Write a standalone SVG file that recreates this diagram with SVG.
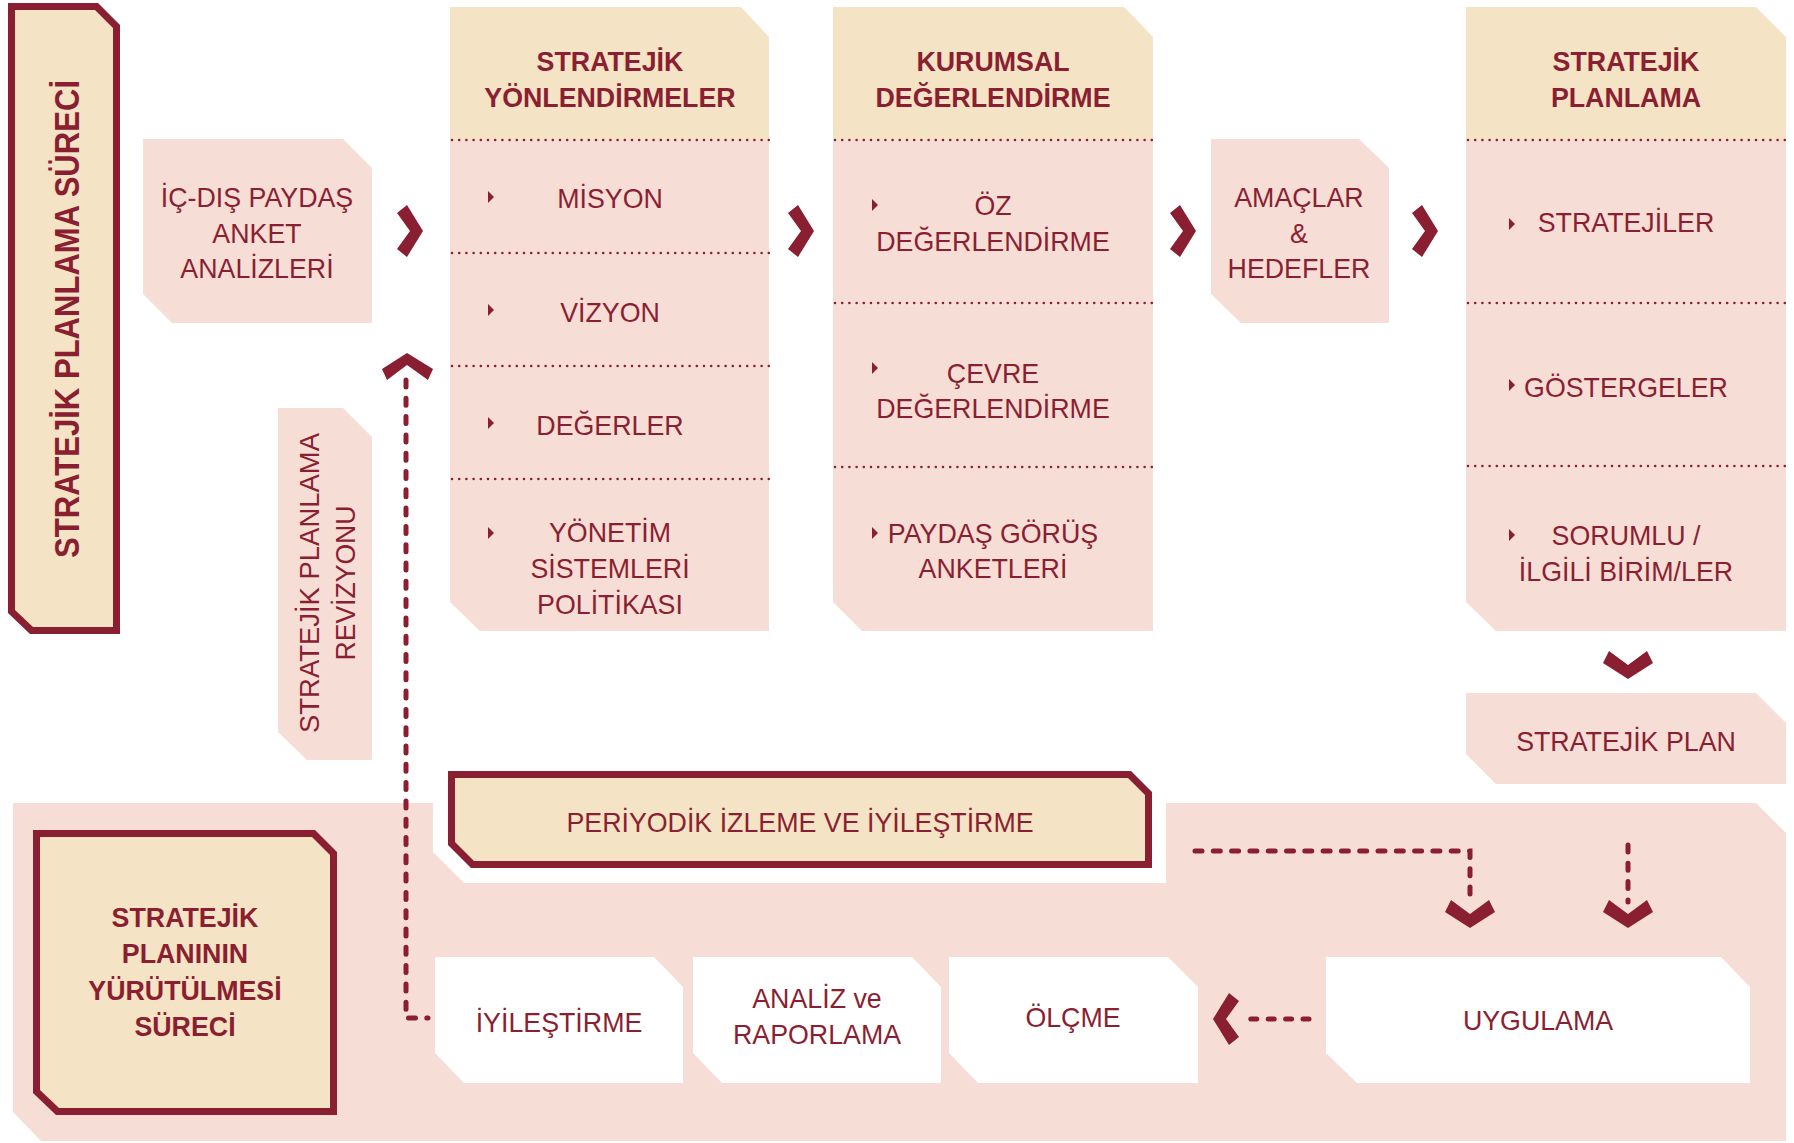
<svg xmlns="http://www.w3.org/2000/svg" xmlns:xlink="http://www.w3.org/1999/xlink" width="1794" height="1143" viewBox="0 0 1794 1143">
<style>
.t{font-family:"Liberation Sans",Arial,sans-serif;fill:#8B1F32;font-size:28.5px;text-anchor:middle}
.c{transform-box:fill-box;transform-origin:center;transform:scaleX(0.94)}
.b{font-weight:bold}
.pink{fill:#F6DDD6}
.beige{fill:#F4E3C5}
.red{fill:#8B1F32}
.white{fill:#FFFFFF}
.dot{stroke:#8B1F32;stroke-width:2.6;stroke-linecap:round;stroke-dasharray:0 7.2;fill:none}
.dash{stroke:#8B1F32;stroke-width:5;stroke-linecap:round;stroke-dasharray:7 11.3;fill:none}
</style>
<defs>
<polygon id="chevR" points="0,0 -16,-26 -26,-18 -13,0 -26,18 -16,26"/>
<polygon id="chevD" points="0,0 -25,-16 -19,-28 0,-14 19,-28 25,-16"/>
<polygon id="bul" points="0,-6 6,0 0,6"/>
</defs>
<rect width="1794" height="1143" fill="#FFFFFF"/>

<g id="bottom-bg">
<path class="pink" d="M13,803 L433,803 L433,852 L464,883 L1166,883 L1166,803 L1756,803 L1786,833 L1786,1141 L41,1141 L13,1112 Z"/>
</g>

<g id="node-surec">
<polygon class="red" points="8,3 98,3 120,25 120,634 30,634 8,613"/>
<polygon class="beige" points="15,10 95,10 113,28 113,627 33,627 15,610"/>
<text class="t b" transform="translate(79,319) rotate(-90)" style="font-size:35px" textLength="478" lengthAdjust="spacingAndGlyphs">STRATEJİK PLANLAMA SÜRECİ</text>
</g>

<g id="node-anket">
<polygon class="pink" points="143,139 343,139 372,168 372,323 172,323 143,294"/>
<text class="t c" x="257" y="207">İÇ-DIŞ PAYDAŞ</text>
<text class="t c" x="257" y="243">ANKET</text>
<text class="t c" x="257" y="278">ANALİZLERİ</text>
</g>

<g id="node-revizyon">
<polygon class="pink" points="278,408 343,408 372,437 372,760 307,760 278,732"/>
<text class="t" transform="translate(319,583) rotate(-90)" textLength="300" lengthAdjust="spacingAndGlyphs">STRATEJİK PLANLAMA</text>
<text class="t" transform="translate(355,583) rotate(-90)" textLength="155" lengthAdjust="spacingAndGlyphs">REVİZYONU</text>
</g>

<g id="node-yonlendirmeler">
<polygon class="beige" points="450,7 741,7 769,37 769,140 450,140"/>
<polygon class="pink" points="450,140 769,140 769,631 480,631 450,602"/>
<line class="dot" x1="452" y1="140" x2="769" y2="140"/>
<line class="dot" x1="452" y1="253" x2="769" y2="253"/>
<line class="dot" x1="452" y1="366" x2="769" y2="366"/>
<line class="dot" x1="452" y1="479" x2="769" y2="479"/>
<text class="t c b" x="610" y="71">STRATEJİK</text>
<text class="t c b" x="610" y="107">YÖNLENDİRMELER</text>
<use xlink:href="#bul" class="red" x="488" y="197"/>
<text class="t c" x="610" y="208">MİSYON</text>
<use xlink:href="#bul" class="red" x="488" y="310"/>
<text class="t c" x="610" y="322">VİZYON</text>
<use xlink:href="#bul" class="red" x="488" y="423"/>
<text class="t c" x="610" y="435">DEĞERLER</text>
<use xlink:href="#bul" class="red" x="488" y="533"/>
<text class="t c" x="610" y="542">YÖNETİM</text>
<text class="t c" x="610" y="578">SİSTEMLERİ</text>
<text class="t c" x="610" y="614">POLİTİKASI</text>
</g>

<g id="node-kurumsal">
<polygon class="beige" points="833,7 1124,7 1153,37 1153,140 833,140"/>
<polygon class="pink" points="833,140 1153,140 1153,631 862,631 833,602"/>
<line class="dot" x1="835" y1="140" x2="1153" y2="140"/>
<line class="dot" x1="835" y1="303" x2="1153" y2="303"/>
<line class="dot" x1="835" y1="467" x2="1153" y2="467"/>
<text class="t c b" x="993" y="71">KURUMSAL</text>
<text class="t c b" x="993" y="107">DEĞERLENDİRME</text>
<use xlink:href="#bul" class="red" x="872" y="205"/>
<text class="t c" x="993" y="215">ÖZ</text>
<text class="t c" x="993" y="251">DEĞERLENDİRME</text>
<use xlink:href="#bul" class="red" x="872" y="368"/>
<text class="t c" x="993" y="383">ÇEVRE</text>
<text class="t c" x="993" y="418">DEĞERLENDİRME</text>
<use xlink:href="#bul" class="red" x="872" y="533"/>
<text class="t c" x="993" y="543">PAYDAŞ GÖRÜŞ</text>
<text class="t c" x="993" y="578">ANKETLERİ</text>
</g>

<g id="node-amaclar">
<polygon class="pink" points="1211,139 1359,139 1389,168 1389,323 1241,323 1211,294"/>
<text class="t c" x="1299" y="207">AMAÇLAR</text>
<text class="t c" x="1299" y="243">&amp;</text>
<text class="t c" x="1299" y="278">HEDEFLER</text>
</g>

<g id="node-planlama">
<polygon class="beige" points="1466,7 1756,7 1786,37 1786,140 1466,140"/>
<polygon class="pink" points="1466,140 1786,140 1786,631 1496,631 1466,602"/>
<line class="dot" x1="1468" y1="140" x2="1786" y2="140"/>
<line class="dot" x1="1468" y1="303" x2="1786" y2="303"/>
<line class="dot" x1="1468" y1="466" x2="1786" y2="466"/>
<text class="t c b" x="1626" y="71">STRATEJİK</text>
<text class="t c b" x="1626" y="107">PLANLAMA</text>
<use xlink:href="#bul" class="red" x="1509" y="224"/>
<text class="t c" x="1626" y="232">STRATEJİLER</text>
<use xlink:href="#bul" class="red" x="1509" y="385"/>
<text class="t c" x="1626" y="397">GÖSTERGELER</text>
<use xlink:href="#bul" class="red" x="1509" y="535"/>
<text class="t c" x="1626" y="545">SORUMLU /</text>
<text class="t c" x="1626" y="581">İLGİLİ BİRİM/LER</text>
</g>

<g id="node-plan">
<polygon class="pink" points="1466,693 1756,693 1786,723 1786,784 1496,784 1466,754"/>
<text class="t c" x="1626" y="751">STRATEJİK PLAN</text>
</g>

<g id="node-periyodik">
<polygon class="red" points="448,771 1131,771 1152,792 1152,868 471,868 448,845"/>
<polygon class="beige" points="455,778 1128,778 1145,795 1145,861 474,861 455,842"/>
<text class="t c" x="800" y="832">PERİYODİK İZLEME VE İYİLEŞTİRME</text>
</g>

<g id="node-yurutulmesi">
<polygon class="red" points="33,830 315,830 337,852 337,1115 56,1115 33,1093"/>
<polygon class="beige" points="40,837 312,837 330,855 330,1108 59,1108 40,1090"/>
<text class="t c b" x="185" y="927">STRATEJİK</text>
<text class="t c b" x="185" y="963">PLANININ</text>
<text class="t c b" x="185" y="1000">YÜRÜTÜLMESİ</text>
<text class="t c b" x="185" y="1036">SÜRECİ</text>
</g>

<g id="node-iyilestirme">
<polygon class="white" points="435,957 654,957 683,987 683,1083 464,1083 435,1053"/>
<text class="t c" x="559" y="1032">İYİLEŞTİRME</text>
</g>
<g id="node-analiz">
<polygon class="white" points="693,957 912,957 941,987 941,1083 722,1083 693,1053"/>
<text class="t c" x="817" y="1008">ANALİZ ve</text>
<text class="t c" x="817" y="1044">RAPORLAMA</text>
</g>
<g id="node-olcme">
<polygon class="white" points="949,957 1168,957 1198,987 1198,1083 978,1083 949,1053"/>
<text class="t c" x="1073" y="1027">ÖLÇME</text>
</g>
<g id="node-uygulama">
<polygon class="white" points="1326,957 1721,957 1750,987 1750,1083 1357,1083 1326,1053"/>
<text class="t c" x="1538" y="1030">UYGULAMA</text>
</g>

<g id="connectors">
<use xlink:href="#chevR" class="red" x="423" y="231"/>
<use xlink:href="#chevR" class="red" x="814" y="231"/>
<use xlink:href="#chevR" class="red" x="1196" y="231"/>
<use xlink:href="#chevR" class="red" x="1438" y="231"/>
<use xlink:href="#chevD" class="red" x="1628" y="679"/>
<path class="dash" d="M406,380 L406,1018 L428,1018"/>
<polygon class="red" points="407,353 433,369 428,380 407,365 387,380 382,369"/>
<path class="dash" d="M1195,851 L1470,851 L1470,902"/>
<use xlink:href="#chevD" class="red" x="1470" y="928"/>
<path class="dash" d="M1628,845 L1628,902"/>
<use xlink:href="#chevD" class="red" x="1628" y="928"/>
<path class="dash" d="M1309,1019 L1245,1019" style="stroke-dasharray:6 11.4"/>
<use xlink:href="#chevR" class="red" transform="translate(1213,1019) scale(-1,1)"/>
</g>
</svg>
